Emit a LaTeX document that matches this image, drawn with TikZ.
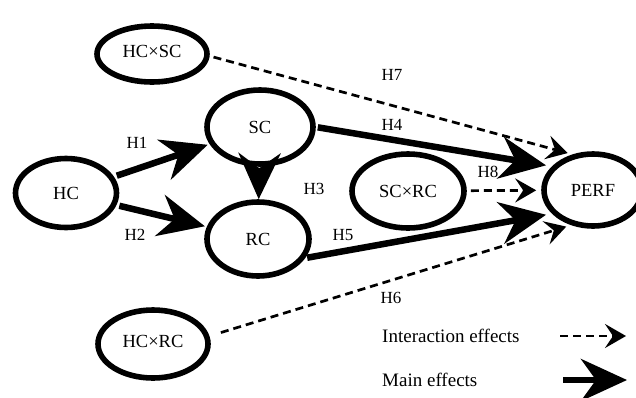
\documentclass[tikz,border=0pt]{standalone}
\usepackage{fontspec}
\setmainfont{Liberation Serif}
\usetikzlibrary{shapes.geometric,arrows.meta}
\begin{document}
\begin{tikzpicture}[x=1pt,y=-1pt,
  var/.style={ellipse,draw,line width=5.6pt,inner sep=0pt,font=\fontsize{18.5}{20}\selectfont},
  mainarr/.style={line width=6.5pt,-{Stealth[length=46pt,width=42pt,inset=15pt]}},
  interarr/.style={line width=2.7pt,dash pattern=on 8pt off 5pt,-{Stealth[length=21pt,width=24pt,inset=8pt]}},
  hlab/.style={font=\fontsize{17}{19}\selectfont,inner sep=0pt},
  legtext/.style={font=\fontsize{19}{21}\selectfont,inner sep=0pt,anchor=west}]
\useasboundingbox (0,0) rectangle (636,397);
% variables
\node[var,minimum width=110pt,minimum height=56pt] (hcsc) at (152,54) {\raisebox{5pt}{HC×SC}};
\node[var,minimum width=106pt,minimum height=74pt] (sc) at (260,127) {SC};
\node[var,minimum width=101pt,minimum height=69pt] (hc) at (66,193) {HC};
\node[var,minimum width=102pt,minimum height=74pt] (rc) at (258,239) {RC};
\node[var,minimum width=112pt,minimum height=74pt] (scrc) at (408,191) {SC×RC};
\node[var,minimum width=98pt,minimum height=72pt] (perf) at (593,190) {PERF};
\node[var,minimum width=110pt,minimum height=68pt] (hcrc) at (153,344) {\raisebox{6pt}{HC×RC}};
% main effects
\draw[mainarr,shorten <=3pt,shorten >=2pt] (hc) -- (sc);
\draw[mainarr,shorten <=3pt,shorten >=2pt] (hc) -- (rc);
\draw[mainarr,shorten <=1pt,shorten >=0pt] (sc) -- (rc);
\draw[mainarr,shorten <=2pt,shorten >=6pt] (sc.east) -- (perf.150);
\draw[mainarr,shorten <=2pt,shorten >=6pt] (rc.-22) -- (perf.210);
% interaction effects
\draw[interarr,shorten <=4pt,shorten >=5pt] (hcsc.-2) -- (perf.120);
\draw[interarr,shorten <=4pt,shorten >=5pt] (scrc) -- (perf);
\draw[interarr,shorten <=12pt,shorten >=5pt] (hcrc.8) -- (perf.238);
% labels
\node[hlab] (h1) at (137,143) {H1};
\node[hlab] (h2) at (135,235) {H2};
\node[hlab] (h3) at (314,189) {H3};
\node[hlab] (h4) at (392,125) {H4};
\node[hlab] (h5) at (343,235) {H5};
\node[hlab] (h6) at (391,298) {H6};
\node[hlab] (h7) at (392,75) {H7};
\node[hlab] (h8) at (488,172) {H8};
% legend
\node[legtext] (li) at (382,336) {Interaction effects};
\node[legtext] (lm) at (382,380) {Main effects};
\coordinate (i1) at (560,336);
\coordinate (i2) at (626,336);
\coordinate (m1) at (563,380);
\coordinate (m2) at (627,380);
\draw[interarr] (i1) -- (i2);
\draw[mainarr] (m1) -- (m2);
\end{tikzpicture}
\end{document}
